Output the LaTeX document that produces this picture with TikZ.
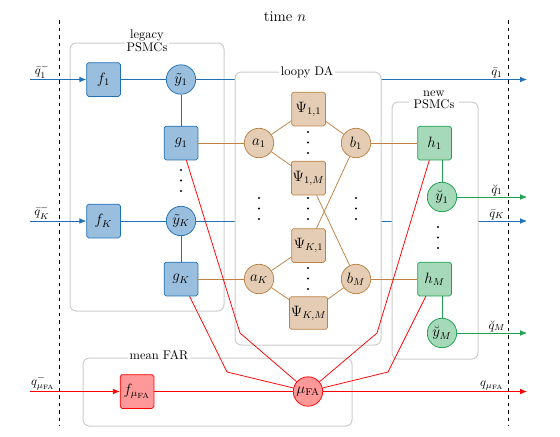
\documentclass[tikz,border=0pt]{standalone}
\usetikzlibrary{arrows.meta}
\definecolor{cblue}{RGB}{31,113,181}
\definecolor{cbrown}{RGB}{190,130,70}
\definecolor{cgreen}{RGB}{30,160,80}
\pgfdeclarelayer{lone}\pgfdeclarelayer{ltwo}\pgfdeclarelayer{lthree}
\pgfsetlayers{lone,ltwo,lthree,main}
\begin{document}
\begin{tikzpicture}[x=0.8pt,y=-0.8pt,
 box/.style={draw, rounded corners=1.5pt, minimum size=27pt, inner sep=1pt, line width=0.6pt, font=\large},
 circ/.style={draw, circle, minimum size=23.5pt, inner sep=0pt, line width=0.6pt, font=\large},
 psi/.style={font=\large},
 bl/.style={draw=cblue, fill=cblue!45},
 br/.style={draw=cbrown, fill=cbrown!40},
 gr/.style={draw=cgreen, fill=cgreen!40},
 rd/.style={draw=red, fill=red!40},
 grp/.style={draw=gray!40, line width=0.8pt, rounded corners=5pt, fill=white},
 grptitle/.style={fill=white, inner sep=1.5pt, align=center},
 lbl/.style={font=\normalsize, inner sep=1pt, text=black},
 arr/.style={-{Latex[length=5.5pt,width=4.5pt]}},
 bline/.style={cblue, line width=0.6pt},
 brline/.style={cbrown, line width=0.6pt},
 gline/.style={cgreen, line width=0.6pt},
 rline/.style={red, line width=0.6pt},
 dotpt/.style={fill=black}
]
\useasboundingbox (0,0) rectangle (560,436);

% time label and dashed lines
\node (time) at (285,17) {\large time $n$};
\draw[dashed, line width=0.6pt] (59,20) -- (59,426);
\draw[dashed, line width=0.6pt] (508,20) -- (508,426);

% groups
\begin{pgfonlayer}{lone}
\draw[grp] (70,43) rectangle (224,311);
\draw[grp] (83,358) rectangle (352,426);
\end{pgfonlayer}
\begin{pgfonlayer}{lthree}
\draw[grp] (235,72) rectangle (381,345);
\draw[grp] (392,102) rectangle (478,359);
\end{pgfonlayer}
\node[grptitle] (tleg) at (147,41) {legacy\\[-2pt]PSMCs};
\node[grptitle] (tloopy) at (307,72) {loopy DA};
\node[grptitle, inner xsep=4pt] (tnew) at (434,100) {new\\[-2pt]PSMCs};
\node[grptitle] (tfar) at (159,355) {mean FAR};

% legacy PSMC nodes
\node[box, bl] (f1) at (103.5,79.5) {$f_1$};
\node[circ, bl] (yt1) at (181,79.5) {$\tilde y_1$};
\node[box, bl] (g1) at (181,143) {$g_1$};
\node[box, bl] (fK) at (103.5,221) {$f_K$};
\node[circ, bl] (ytK) at (181,221) {$\tilde y_K$};
\node[box, bl] (gK) at (181,279) {$g_K$};

% loopy DA nodes
\node[circ, br] (a1) at (259,143) {$a_1$};
\node[circ, br] (aK) at (259,279) {$a_K$};
\node[circ, br] (b1) at (356,143) {$b_1$};
\node[circ, br] (bM) at (356,279) {$b_M$};
\node[box, br, psi] (P11) at (308.5,109) {$\Psi_{1,1}$};
\node[box, br, psi] (P1M) at (308.5,178) {$\Psi_{1,M}$};
\node[box, br, psi] (PK1) at (308.5,245.5) {$\Psi_{K,1}$};
\node[box, br, psi, minimum width=30pt, minimum height=26pt] (PKM) at (308.5,313) {$\Psi_{K,M}$};

% new PSMC nodes
\node[box, gr] (h1) at (434.5,143) {$h_1$};
\node[circ, gr] (yb1) at (442,197) {$\breve y_1$};
\node[box, gr] (hM) at (434.5,279) {$h_M$};
\node[circ, gr] (ybM) at (442,333) {$\breve y_M$};

% mean FAR nodes
\node[box, rd] (fmu) at (137,391.5) {$f_{\mu_{\mathrm{FA}}}$};
\node[circ, rd] (mu) at (308,391.5) {$\mu_{\mathrm{FA}}$};

% coordinates
\coordinate (in1) at (30,79.5);
\coordinate (inK) at (30,221);
\coordinate (inmu) at (30,391.5);
\coordinate (out1) at (527,79.5);
\coordinate (outK) at (527,221);
\coordinate (outb1) at (527,197);
\coordinate (outbM) at (527,333);
\coordinate (outmu) at (527,391.5);
\coordinate (kg1) at (240,333);
\coordinate (kgK) at (227,372);
\coordinate (kh1) at (377,333);
\coordinate (khM) at (388,372);

% blue connectors
\draw[bline, arr] (in1) -- (f1);
\draw[bline, arr] (inK) -- (fK);
\node[lbl, above] (lq1) at (42,79.5) {$\bar q_1^-$};
\node[lbl, above] (lqK) at (42,221) {$\bar q_K^-$};
\draw[bline] (f1) -- (yt1);
\draw[bline] (fK) -- (ytK);
\draw[bline] (yt1) -- (g1);
\draw[bline] (ytK) -- (gK);
\begin{pgfonlayer}{ltwo}
\draw[bline, arr] (yt1) -- (out1);
\draw[bline, arr] (ytK) -- (outK);
\end{pgfonlayer}
\node[lbl, above] (lo1) at (497,79.5) {$\bar q_1$};
\node[lbl, above] (loK) at (497,221) {$\bar q_K$};

% brown connectors
\draw[brline] (g1) -- (a1);
\draw[brline] (gK) -- (aK);
\draw[brline] (b1) -- (h1);
\draw[brline] (bM) -- (hM);
\draw[brline] (a1) -- (P11);
\draw[brline] (a1) -- (P1M);
\draw[brline] (b1) -- (P11);
\draw[brline] (b1) -- (PK1);
\draw[brline] (P1M) -- (bM);
\draw[brline] (aK) -- (PK1);
\draw[brline] (aK) -- (PKM);
\draw[brline] (bM) -- (PKM);

% green connectors
\draw[gline] (h1.south -| yb1) -- (yb1);
\draw[gline] (hM.south -| ybM) -- (ybM);
\draw[gline, arr] (yb1) -- (outb1);
\draw[gline, arr] (ybM) -- (outbM);
\node[lbl, above] (lb1) at (497,197) {$\breve q_1$};
\node[lbl, above] (lbM) at (497,333) {$\breve q_M$};

% red connectors
\draw[rline, arr] (inmu) -- (fmu);
\node[lbl, above] (lmuin) at (43,391.5) {$q^-_{\mu_{\mathrm{FA}}}$};
\draw[rline] (fmu) -- (mu);
\draw[rline, arr] (mu) -- (outmu);
\node[lbl, above] (lmuout) at (492,391.5) {$q_{\mu_{\mathrm{FA}}}$};
\draw[rline] (g1) -- (kg1) -- (mu);
\draw[rline] (gK) -- (kgK) -- (mu);
\draw[rline] (h1) -- (kh1) -- (mu);
\draw[rline] (hM) -- (khM) -- (mu);

% vertical dots
\foreach \x/\ya in {181/170, 259/198, 308/198, 356/198, 308/132, 308/268, 438/227} {
  \foreach \k in {0,1,2} {
    \fill[dotpt] (\x,\ya+\k*10.5) circle (0.85pt);
  }
}
\end{tikzpicture}
\end{document}
